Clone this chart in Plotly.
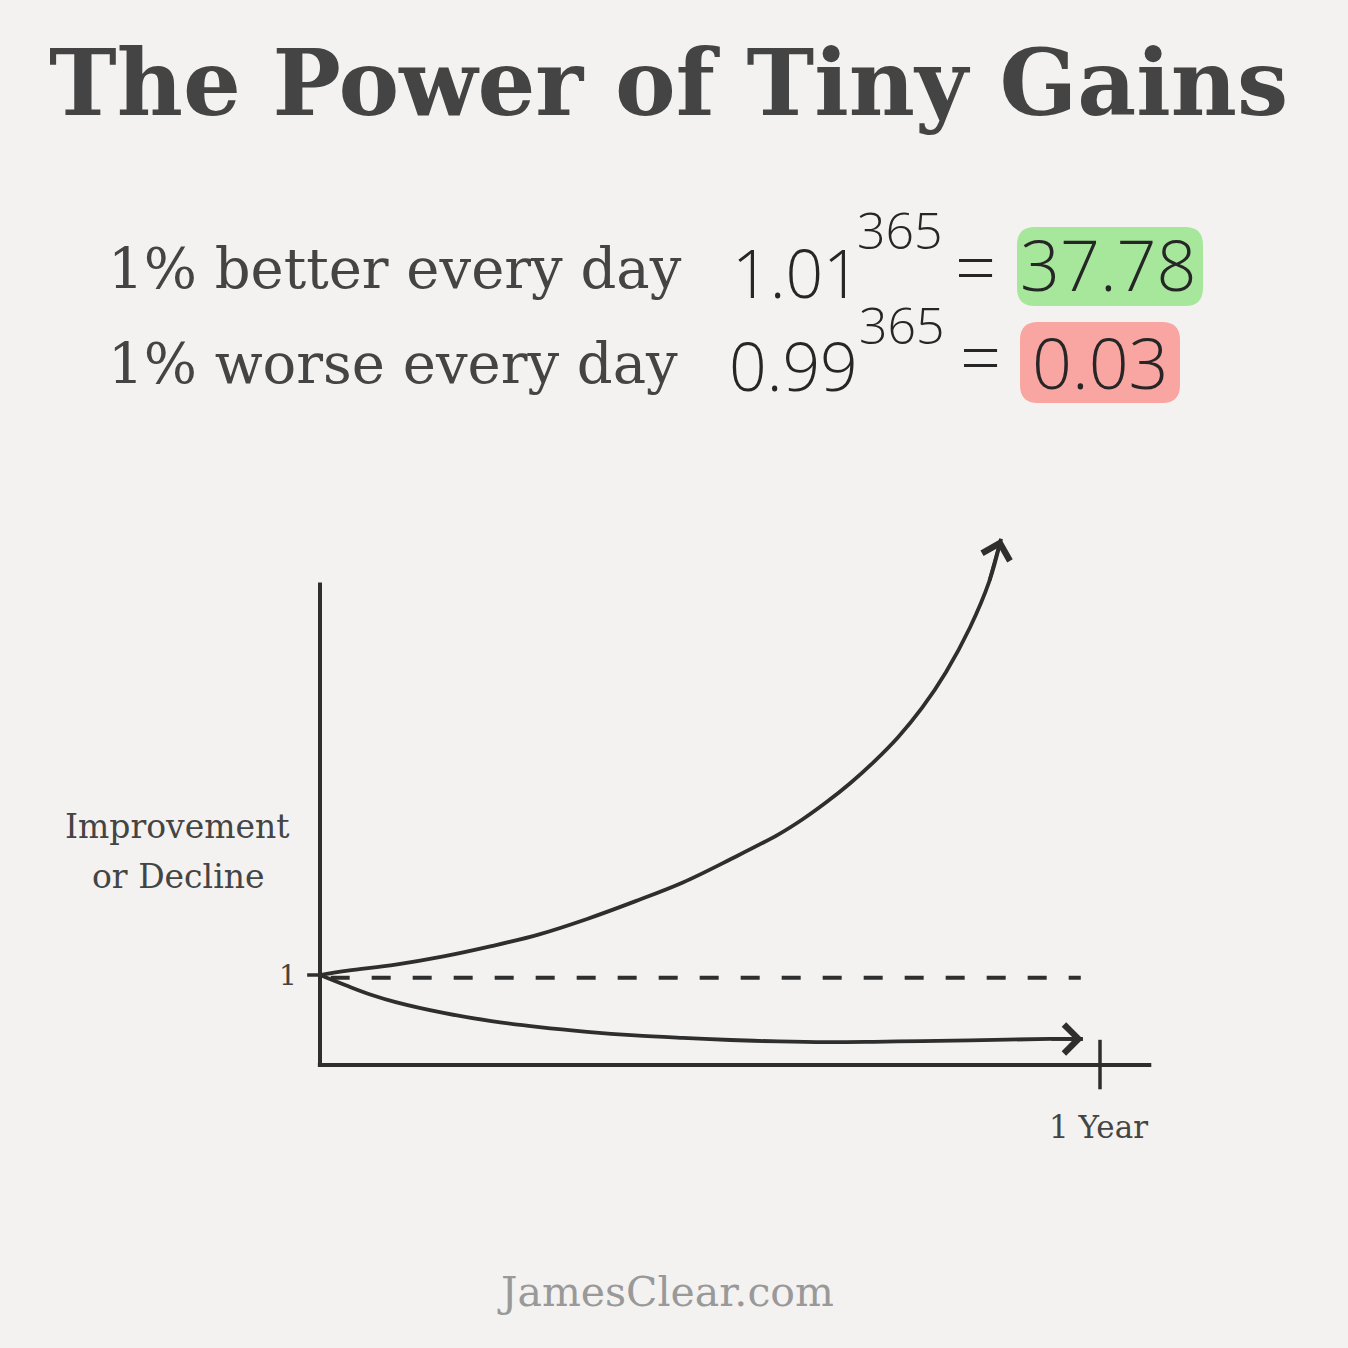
import plotly.graph_objects as go

# ---------------- data ----------------
# x: days since start, y: relative level (1 = starting point)
days_better = [0, 13.0, 35.4, 57.8, 80.2, 102.6, 125.0, 147.4, 169.8, 192.1, 214.6,
               225.7, 236.9, 248.1, 259.3, 270.5, 281.7, 292.9, 304.1, 313.1, 318.7]
level_better = [1.0, 1.048, 1.116, 1.207, 1.321, 1.452, 1.623, 1.818, 2.028, 2.286, 2.563,
                2.728, 2.919, 3.131, 3.371, 3.642, 3.967, 4.364, 4.858, 5.367, 5.847]

days_worse = [0, 13.0, 24.2, 35.4, 57.8, 80.2, 102.6, 125.0, 147.4, 169.8, 192.1,
              214.6, 236.9, 259.3, 281.7, 304.1, 341.6, 357.0]
level_worse = [1.0, 0.877, 0.778, 0.699, 0.579, 0.488, 0.421, 0.369, 0.329, 0.301, 0.278,
               0.262, 0.254, 0.258, 0.266, 0.273, 0.290, 0.289]

baseline_days = [5, 356]
baseline_level = [0.97, 0.97]

year_day = 365
start_level = 1
axis_x_end = 389
axis_y_top = 5.36

title = "The Power of Tiny Gains"
line_texts = ["1% better every day", "1% worse every day"]
bases = ["1.01", "0.99"]
exponents = ["365", "365"]
results = ["37.78", "0.03"]
y_label = ["Improvement", "or Decline"]
x_label = "1 Year"
footer = "JamesClear.com"

# ---------------- geometry ----------------
W = H = 1348
X0, DAY = 320, 780 / 365      # pixel of day 0, pixels per day
Y0, UNIT = 1065, 90           # pixel of level 0, pixels per unit
xr = [(0 - X0) / DAY, (W - X0) / DAY]
yr = [(Y0 - H) / UNIT, Y0 / UNIT]


def px(x):
    return x / W


def py(y):
    return 1 - y / H


INK = "#2e2e2e"
HANDINK = "#262626"
TXT = "#444444"
BG = "#f4f2f0"
SERIF = "DejaVu Serif"
HAND = "Open Sans"

fig = go.Figure()

# axes (hand drawn)
fig.add_trace(go.Scatter(x=[0, 0], y=[0, axis_y_top], mode="lines",
                         line=dict(color=INK, width=4), hoverinfo="skip"))
fig.add_trace(go.Scatter(x=[-1, axis_x_end], y=[0, 0], mode="lines",
                         line=dict(color=INK, width=4), hoverinfo="skip"))
fig.add_trace(go.Scatter(x=[year_day, year_day], y=[0.28, -0.27], mode="lines",
                         line=dict(color=INK, width=3.5), hoverinfo="skip"))
fig.add_trace(go.Scatter(x=[-6, 0], y=[start_level, start_level], mode="lines",
                         line=dict(color=INK, width=3.5), hoverinfo="skip"))

# dashed baseline
fig.add_trace(go.Scatter(x=baseline_days, y=baseline_level, mode="lines",
                         line=dict(color=INK, width=4, dash="19px,22px"), hoverinfo="skip"))

# curves
fig.add_trace(go.Scatter(x=days_better, y=level_better, mode="lines",
                         line=dict(color=INK, width=3.8, shape="spline", smoothing=1.0),
                         hoverinfo="skip"))
fig.add_trace(go.Scatter(x=days_worse, y=level_worse, mode="lines",
                         line=dict(color=INK, width=3.8, shape="spline", smoothing=1.0),
                         hoverinfo="skip"))

annotations = []
# arrow heads at the end of each curve
for xs, ys in ((days_better, level_better), (days_worse, level_worse)):
    annotations.append(dict(x=xs[-1], y=ys[-1], ax=xs[-2], ay=ys[-2], xref="x", yref="y",
                            axref="x", ayref="y", text="", showarrow=True, arrowhead=4,
                            arrowsize=1.55, arrowwidth=3.6, arrowcolor=INK, standoff=0,
                            startstandoff=0))


def txt(text, x, y, size, color=TXT, family=SERIF, xanchor="center", weight=None):
    f = dict(family=family, size=size, color=color)
    if weight is not None:
        f["weight"] = weight
    annotations.append(dict(text=text, x=px(x), y=py(y), xref="paper", yref="paper",
                            xanchor=xanchor, yanchor="middle", showarrow=False, font=f))


# title
txt(title, 668, 83, 91, weight="bold")
# statement lines
txt(line_texts[0], 106, 268, 56, xanchor="left")
txt(line_texts[1], 106, 363, 56, xanchor="left")
# handwritten equations
txt(bases[0], 796, 272, 66, color=HANDINK, family=HAND, weight=300)
txt(exponents[0], 900, 230, 50, color=HANDINK, family=HAND, weight=300)
txt("=", 975, 266, 72, color=HANDINK, family=HAND, weight=300)
txt(results[0], 1108, 264, 70, color=HANDINK, family=HAND, weight=300)
txt(bases[1], 793, 365, 66, color=HANDINK, family=HAND, weight=300)
txt(exponents[1], 902, 325, 50, color=HANDINK, family=HAND, weight=300)
txt("=", 981, 356, 72, color=HANDINK, family=HAND, weight=300)
txt(results[1], 1100, 362, 70, color=HANDINK, family=HAND, weight=300)
# axis labels
txt(y_label[0], 177, 827, 33)
txt(y_label[1], 178, 876, 33)
txt(str(start_level), 288, 975, 28)
txt(x_label, 1098, 1127, 31)
# footer
txt(footer, 665, 1292, 41, color="#999999")


def blob(x0, y0, x1, y1, r, color):
    path = (f"M {px(x0 + r)},{py(y0)} L {px(x1 - r)},{py(y0)} "
            f"Q {px(x1)},{py(y0)} {px(x1)},{py(y0 + r)} L {px(x1)},{py(y1 - r)} "
            f"Q {px(x1)},{py(y1)} {px(x1 - r)},{py(y1)} L {px(x0 + r)},{py(y1)} "
            f"Q {px(x0)},{py(y1)} {px(x0)},{py(y1 - r)} L {px(x0)},{py(y0 + r)} "
            f"Q {px(x0)},{py(y0)} {px(x0 + r)},{py(y0)} Z")
    return dict(type="path", path=path, xref="paper", yref="paper", fillcolor=color,
                line=dict(width=0), layer="below")


shapes = [blob(1017, 227, 1203, 306, 18, "#a6e79c"),
          blob(1020, 322, 1180, 403, 18, "#f9a5a1")]

fig.update_layout(
    width=W, height=H, margin=dict(l=0, r=0, t=0, b=0),
    paper_bgcolor=BG, plot_bgcolor=BG, showlegend=False,
    xaxis=dict(range=xr, visible=False, domain=[0, 1], fixedrange=True),
    yaxis=dict(range=yr, visible=False, domain=[0, 1], fixedrange=True),
    annotations=annotations, shapes=shapes,
)

fig.write_html("out.html", config={"displayModeBar": False},
               post_script="document.body.style.margin='0';document.body.style.background='%s';" % BG)
